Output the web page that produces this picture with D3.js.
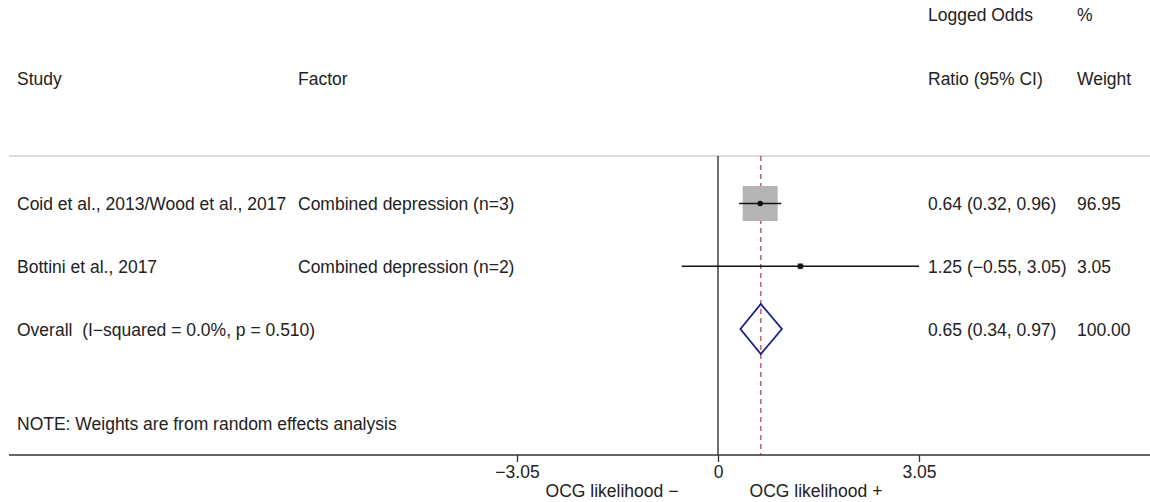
<!DOCTYPE html>
<html>
<head>
<meta charset="utf-8">
<script src="https://cdn.jsdelivr.net/npm/d3@7"></script>
<style>
  html, body { margin: 0; padding: 0; background: #fff; }
  svg { display: block; }
  text { font-family: "Liberation Sans", Arial, sans-serif; font-size: 17.5px; fill: #222; white-space: pre; }
</style>
</head>
<body>
<svg id="chart" width="1150" height="502"></svg>
<script>
// Study rows
const studies = ["Coid et al., 2013/Wood et al., 2017", "Bottini et al., 2017"];
const factors = ["Combined depression (n=3)", "Combined depression (n=2)"];
const estimates = [0.64, 1.25];
const lower = [0.32, -0.55];
const upper = [0.96, 3.05];
const weights = [96.95, 3.05];

// Pooled estimate
const overallLabel = "Overall  (I\u2212squared = 0.0%, p = 0.510)";
const overall = { est: 0.65, lo: 0.34, hi: 0.97, weight: 100.00 };

// Axis ticks
const tickValues = [-3.05, 0, 3.05];
const tickLabels = ["\u22123.05", "0", "3.05"];

const fmt = d3.format(".2f");
const fmtSigned = v => (v < 0 ? "\u2212" : "") + fmt(Math.abs(v));

const svg = d3.select("#chart");

const x = d3.scaleLinear().domain([-3.05, 3.05]).range([517, 919]);
const y = d3.scalePoint().domain(["s0", "s1", "overall"]).range([203.5, 329]);

const plotTop = 156, plotBottom = 455;
const colStudy = 17, colFactor = 298, colCI = 928, colWeight = 1077;
const base = 6.5; // baseline offset from row centre

// Header
svg.append("text").attr("x", colCI).attr("y", 21).text("Logged Odds");
svg.append("text").attr("x", colWeight).attr("y", 21).text("%");
svg.append("text").attr("x", colStudy).attr("y", 85).text("Study");
svg.append("text").attr("x", colFactor).attr("y", 85).text("Factor");
svg.append("text").attr("x", colCI).attr("y", 85).text("Ratio (95% CI)");
svg.append("text").attr("x", colWeight).attr("y", 85).text("Weight");

// Header separator
svg.append("line")
  .attr("x1", 9).attr("x2", 1150).attr("y1", plotTop).attr("y2", plotTop)
  .attr("stroke", "#cfcfcf").attr("stroke-width", 1.3);

// Null line
svg.append("line")
  .attr("x1", x(0)).attr("x2", x(0)).attr("y1", plotTop).attr("y2", plotBottom)
  .attr("stroke", "#222").attr("stroke-width", 1.3);

// Pooled estimate reference line
svg.append("line")
  .attr("x1", x(overall.est)).attr("x2", x(overall.est))
  .attr("y1", plotTop).attr("y2", plotBottom)
  .attr("stroke", "#b5475a").attr("stroke-width", 1.3)
  .attr("stroke-dasharray", "5,4");

// Study boxes sized by weight
const maxBox = 35;
const boxSize = w => maxBox * Math.sqrt(w / d3.max(weights));

studies.forEach((s, i) => {
  const cy = y("s" + i);
  const sz = boxSize(weights[i]);
  svg.append("rect")
    .attr("x", x(estimates[i]) - sz / 2).attr("y", cy - sz / 2)
    .attr("width", sz).attr("height", sz)
    .attr("fill", "#b4b4b4");
  svg.append("line")
    .attr("x1", x(lower[i])).attr("x2", x(upper[i]))
    .attr("y1", cy).attr("y2", cy)
    .attr("stroke", "#111").attr("stroke-width", 1.6);
  svg.append("circle")
    .attr("cx", x(estimates[i])).attr("cy", cy).attr("r", 2.8)
    .attr("fill", "#111");

  svg.append("text").attr("x", colStudy).attr("y", cy + base).text(s);
  svg.append("text").attr("x", colFactor).attr("y", cy + base).text(factors[i]);
  svg.append("text").attr("x", colCI).attr("y", cy + base)
    .text(`${fmt(estimates[i])} (${fmtSigned(lower[i])}, ${fmt(upper[i])})`);
  svg.append("text").attr("x", colWeight).attr("y", cy + base).text(fmt(weights[i]));
});

// Pooled diamond
const oy = y("overall");
const dh = 25;
svg.append("path")
  .attr("d", `M${x(overall.lo)},${oy} L${x(overall.est)},${oy - dh} L${x(overall.hi)},${oy} L${x(overall.est)},${oy + dh} Z`)
  .attr("fill", "none").attr("stroke", "#1f1f8a").attr("stroke-width", 1.8);
svg.append("text").attr("x", colStudy).attr("y", oy + base).text(overallLabel);
svg.append("text").attr("x", colCI).attr("y", oy + base)
  .text(`${fmt(overall.est)} (${fmt(overall.lo)}, ${fmt(overall.hi)})`);
svg.append("text").attr("x", colWeight).attr("y", oy + base).text(fmt(overall.weight));

// Note
svg.append("text").attr("x", colStudy).attr("y", 430)
  .text("NOTE: Weights are from random effects analysis");

// Bottom axis
svg.append("line")
  .attr("x1", 9).attr("x2", 1150).attr("y1", plotBottom).attr("y2", plotBottom)
  .attr("stroke", "#333").attr("stroke-width", 1.4);

const axis = d3.axisBottom(x).tickValues(tickValues)
  .tickFormat((d, i) => tickLabels[i]).tickSize(7).tickPadding(4);
const gAxis = svg.append("g").attr("transform", `translate(0,${plotBottom})`).call(axis);
gAxis.select(".domain").remove();
gAxis.selectAll(".tick line").attr("stroke", "#333").attr("stroke-width", 1.3);
gAxis.selectAll(".tick text")
  .style("font-family", '"Liberation Sans", Arial, sans-serif')
  .style("font-size", "17.5px").attr("fill", "#222");

svg.append("text").attr("x", 612).attr("y", 497).attr("text-anchor", "middle")
  .text("OCG likelihood \u2212");
svg.append("text").attr("x", 816).attr("y", 497).attr("text-anchor", "middle")
  .text("OCG likelihood +");
</script>
</body>
</html>
